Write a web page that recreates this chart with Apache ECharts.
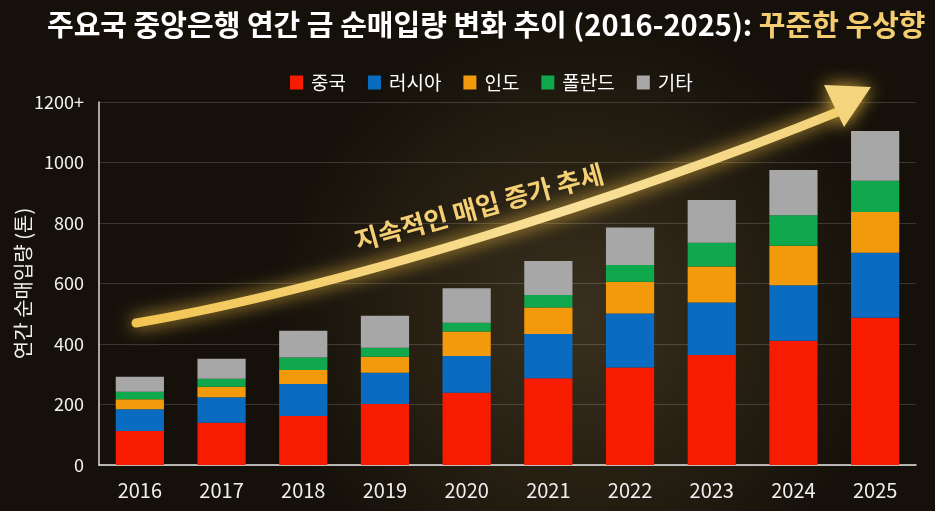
<!DOCTYPE html>
<html>

<head lang="ko">
    <meta charset="utf-8">
    <title>gold</title>
    <script src="https://cdn.jsdelivr.net/npm/echarts@6/dist/echarts.min.js"></script>
    <style>
        html, body { margin: 0; padding: 0; background: #17120a; }
    </style>
</head>

<body>
    <div id="main" style="width: 935px;height:511px;"></div>
    <script type="text/javascript">
        var myChart = echarts.init(document.getElementById('main'));

        /*---------------------数据----------------------------*/
        var years = ['2016', '2017', '2018', '2019', '2020', '2021', '2022', '2023', '2024', '2025'];
        var china = [112, 140, 162, 202, 239, 287, 322, 364, 411, 487];
        var russia = [72, 84, 106, 103, 121, 146, 179, 173, 183, 215];
        var india = [33, 35, 46, 53, 81, 88, 105, 119, 131, 134];
        var poland = [25, 26, 41, 30, 29, 41, 55, 79, 101, 104];
        var other = [50, 66, 89, 105, 114, 112, 124, 141, 149, 164];
        var seriesNames = ['중국', '러시아', '인도', '폴란드', '기타'];
        var seriesColors = ['#f71c00', '#0a6cc0', '#f29a0c', '#0fa84c', '#a7a7a7'];
        var yTicks = [0, 200, 400, 600, 800, 1000, 1200];

        var font = '"Noto Sans CJK KR", "Noto Sans", sans-serif';

        var seriesData = [china, russia, india, poland, other];
        var series = seriesNames.map(function (name, i) {
            return {
                name: name,
                type: 'bar',
                stack: 'total',
                barWidth: '59%',
                itemStyle: { color: seriesColors[i] },
                data: seriesData[i]
            };
        });

        // 화살표 (장식)
        var glow = 'rgba(255, 200, 70, 0.85)';
        var arrow = [{
            type: 'bezierCurve',
            z: 100,
            shape: { x1: 136, y1: 323, cpx1: 330, cpy1: 290, cpx2: 620, cpy2: 200, x2: 840, y2: 111 },
            style: {
                fill: 'none',
                stroke: {
                    type: 'linear', x: 0, y: 0, x2: 1, y2: 0,
                    colorStops: [{ offset: 0, color: '#f2c451' }, { offset: 0.6, color: '#f9e09a' }, { offset: 1, color: '#f3d27a' }],
                    global: false
                },
                lineWidth: 9,
                lineCap: 'round',
                shadowBlur: 18,
                shadowColor: glow
            }
        }, {
            type: 'polygon',
            z: 100,
            shape: { points: [[871, 87], [824, 85], [844, 127]] },
            style: { fill: '#f5d47e', shadowBlur: 18, shadowColor: glow }
        }, {
            type: 'text',
            z: 101,
            x: 479,
            y: 207,
            rotation: 0.27,
            style: {
                text: '지속적인 매입 증가 추세',
                fill: '#f4cf73',
                font: 'bold 26px ' + font,
                align: 'center',
                verticalAlign: 'middle',
                shadowBlur: 6,
                shadowColor: 'rgba(0,0,0,0.9)'
            }
        }];

        var option = {
            backgroundColor: {
                type: 'radial', x: 0.62, y: 0.62, r: 0.6,
                colorStops: [
                    { offset: 0, color: '#3a301e' },
                    { offset: 0.55, color: '#261f12' },
                    { offset: 1, color: '#15110a' }
                ]
            },
            textStyle: { fontFamily: font },
            title: {
                left: 42,
                top: 5,
                text: '{w|주요국 중앙은행 연간 금 순매입량 변화 추이 (2016-2025): }{g|꾸준한 우상향}',
                textStyle: {
                    rich: {
                        w: { color: '#ffffff', fontSize: 29, fontWeight: 'bold', fontFamily: font },
                        g: { color: '#f3cd70', fontSize: 29, fontWeight: 'bold', fontFamily: font }
                    }
                }
            },
            legend: {
                left: 285,
                top: 68,
                itemWidth: 13,
                itemHeight: 14,
                itemGap: 22,
                icon: 'rect',
                textStyle: { color: '#ffffff', fontSize: 19, fontFamily: font, padding: [0, 0, 0, 3] },
                data: seriesNames
            },
            grid: {
                left: 99,
                right: 19,
                top: 102,
                bottom: 46,
                containLabel: false,
                outerBoundsMode: 'none'
            },
            xAxis: {
                type: 'category',
                data: years,
                axisLine: { lineStyle: { color: '#e8e8e8', width: 1.5 } },
                axisTick: { show: false },
                axisLabel: { color: '#f0f0f0', fontSize: 20, margin: 15 }
            },
            yAxis: {
                type: 'value',
                min: yTicks[0],
                max: yTicks[yTicks.length - 1],
                interval: yTicks[1] - yTicks[0],
                name: '연간 순매입량 (톤)',
                nameLocation: 'middle',
                nameGap: 66,
                nameMoveOverlap: false,
                nameRotate: 90,
                nameTextStyle: { color: '#f0f0f0', fontSize: 20 },
                axisLine: { show: true, lineStyle: { color: '#d8d8d8', width: 1.5 } },
                axisTick: { show: false },
                axisLabel: {
                    color: '#f0f0f0',
                    fontSize: 18,
                    margin: 15,
                    formatter: function (v) {
                        return v === 1200 ? '1200+' : v;
                    }
                },
                splitLine: { lineStyle: { color: 'rgba(255,255,255,0.16)', width: 1 } }
            },
            graphic: arrow,
            series: series
        };
        myChart.setOption(option);
    </script>
</body>

</html>
